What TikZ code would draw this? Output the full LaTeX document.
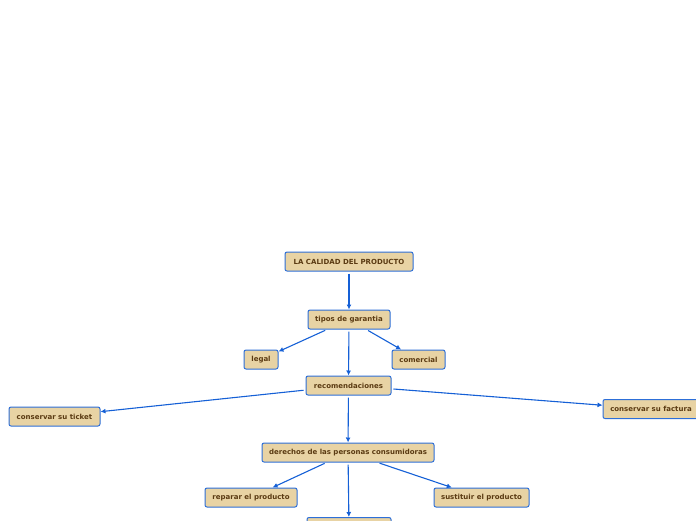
\documentclass[tikz,border=0pt]{standalone}
\usepackage{fontspec}
\setmainfont{DejaVu Sans}
\usetikzlibrary{arrows.meta,positioning}
\definecolor{boxfill}{HTML}{E8D3A4}
\definecolor{boxline}{HTML}{2D6FD8}
\definecolor{txtbrown}{HTML}{5A3A12}
\definecolor{linkblue}{HTML}{1560D6}
\tikzset{
  topic/.style={draw=boxline, fill=boxfill, rounded corners=2pt, line width=1pt,
    minimum height=19, inner sep=0pt, text=txtbrown, font=\fontsize{7}{8}\selectfont\bfseries},
  link/.style={draw=linkblue, line width=1.1pt, -{Latex[length=5pt,width=5pt]}, shorten <=2pt}
}

\begin{document}
\begin{tikzpicture}[x=1pt,y=-1pt]
    \useasboundingbox (0,0) rectangle (696,520);

    % Topics
    \node[topic, minimum width=128] (calidad) at (349,261.5) {LA CALIDAD DEL PRODUCTO};
    \node[topic, minimum width=82] (tipos) at (349,319.5) {tipos de garantia};
    \node[topic, minimum width=34] (legal) at (261,359.5) {legal};
    \node[topic, minimum width=53] (comercial) at (418.5,359.5) {comercial};
    \node[topic, minimum width=85] (recom) at (348.5,385.5) {recomendaciones};
    \node[topic, minimum width=91] (ticket) at (54.5,416.5) {conservar su ticket};
    \node[topic, minimum width=96] (factura) at (651,409) {conservar su factura};
    \node[topic, minimum width=172] (derechos) at (348,452.5) {derechos de las personas consumidoras};
    \node[topic, minimum width=92] (reparar) at (251,497.5) {reparar el producto};
    \node[topic, minimum width=95] (sustituir) at (481.5,497.5) {sustituir el producto};
    \node[topic, minimum width=84] (abajo) at (349,527) {};

    % Links
    \draw[link] (calidad) -- (tipos);
    \draw[link] (tipos) -- (legal);
    \draw[link] (tipos) -- (comercial);
    \draw[link] (tipos) -- (recom);
    \draw[link] (recom) -- (ticket);
    \draw[link] (recom) -- (factura);
    \draw[link] (recom) -- (derechos);
    \draw[link] (derechos) -- (reparar);
    \draw[link] (derechos) -- (sustituir);
    \draw[link] (derechos) -- (abajo);
\end{tikzpicture}
\end{document}
